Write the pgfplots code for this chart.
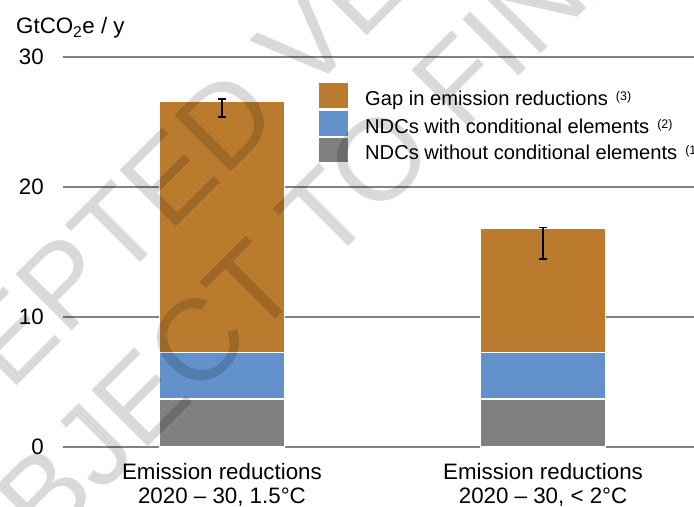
\documentclass[border=0pt]{standalone}
\usepackage{fontspec}
\setmainfont{Liberation Sans}
\usepackage{pgfplots}
\pgfplotsset{compat=1.18}
\definecolor{cOr}{RGB}{186,123,47}
\definecolor{cBl}{RGB}{98,145,203}
\definecolor{cGr}{RGB}{128,128,128}
\definecolor{cGrid}{RGB}{130,130,130}
\newcommand\supx[1]{\hspace{8bp}\raisebox{5bp}{\fontsize{12.5}{12.5}\selectfont #1}}
\pgfplotsset{
  commongeom/.style={
    at={(63bp,60bp)}, anchor=south west,
    scale only axis, width=631bp, height=390bp,
    xmin=-0.495, xmax=1.470, ymin=0, ymax=30,
  }
}
\begin{document}
\begin{tikzpicture}
\useasboundingbox (0,0) rectangle (694bp,507bp);
\begin{axis}[
  commongeom,
  ybar stacked, bar width=125bp,
  axis line style={draw=none},
  major tick length=0pt,
  ytick={0,10,20,30},
  ymajorgrids, grid style={cGrid, line width=1.5bp},
  xtick={0,1},
  xticklabels={{Emission reductions\\2020 – 30, 1.5°C},{Emission reductions\\2020 – 30, < 2°C}},
  xticklabel style={align=center, inner sep=0pt, anchor=north, yshift=-16bp, font=\fontsize{22.4}{24}\selectfont},
  yticklabel style={anchor=east, inner sep=0pt, xshift=-19bp, font=\fontsize{22.4}{24}\selectfont},
  /pgf/number format/assume math mode=true,
  clip=false,
]
\addplot[fill=cGr, draw=white, line width=1.5bp] coordinates {(0,3.7) (1,3.7)};
\addplot[fill=cBl, draw=white, line width=1.5bp] coordinates {(0,3.55) (1,3.55)};
\addplot[fill=cOr, draw=white, line width=1.5bp] coordinates {(0,19.35) (1,9.55)};
\end{axis}
% error bars (uncertainty range of the total reduction)
\begin{axis}[commongeom, hide axis, clip=false]
\addplot[draw=none, mark=none,
  error bars/.cd, y dir=both, y explicit, error mark=-,
  error bar style={draw=black, line width=1.5bp},
  error mark options={draw=black, line width=1.5bp, mark size=4bp, rotate=90}]
  coordinates {(0,26.085) +- (0,0.685) (1,15.68) +- (0,1.22)};
\end{axis}
\node[anchor=base west, inner sep=0pt, font=\fontsize{22.4}{24}\selectfont] at (16bp,473.7bp) {GtCO\textsubscript{2}e / y};
\fill[cOr] (319bp,398.7bp) rectangle (348bp,423.7bp);
\fill[cBl] (319bp,371.3bp) rectangle (348bp,396.3bp);
\fill[cGr] (319bp,345.3bp) rectangle (348bp,369.3bp);
\begin{scope}[every node/.style={anchor=base west, inner sep=0pt, font=\fontsize{20.2}{22}\selectfont}]
\node at (365bp,401bp) {Gap in emission reductions\supx{(3)}};
\node at (365bp,373.7bp) {NDCs with conditional elements\supx{(2)}};
\node at (365bp,347bp) {NDCs without conditional elements\supx{(1)}};
\end{scope}
\begin{scope}[every node/.style={anchor=base west, inner sep=0pt, rotate=45, opacity=0.15, text=black, font=\fontsize{116}{116}\selectfont}]
\node at (-162bp,-58bp) {ACCEPTED VERSION};
\node at (-68bp,-156bp) {SUBJECT TO FINAL EDITS};
\end{scope}
\end{tikzpicture}
\end{document}
